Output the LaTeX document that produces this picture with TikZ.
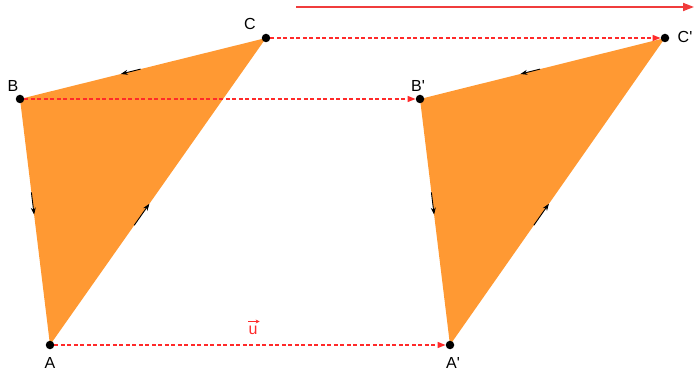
\documentclass[tikz,border=0pt]{standalone}
\usepackage{fontspec}
\setmainfont{Liberation Sans}
\usetikzlibrary{arrows.meta,calc}
\definecolor{fillor}{HTML}{FF9933}
\definecolor{vred}{HTML}{F03C3C}
\definecolor{dred}{HTML}{FF2A2A}
\tikzset{
  pt/.style={circle,fill=black,inner sep=0pt,minimum size=8.5pt},
  lbl/.style={font=\fontsize{16}{18}\selectfont,inner sep=0pt},
  tri/.style={fill=fillor,draw=none},
  edgeline/.style={black,line width=0.9pt,-{Stealth[length=7pt,width=5pt]}},
  trans/.style={color=dred,dash pattern=on 4pt off 2.5pt,line width=1.3pt,-{Triangle[length=8pt,width=6pt]}},
}
\begin{document}
\begin{tikzpicture}[x=1pt,y=-1pt]
\useasboundingbox (0,0) rectangle (696,371);
\coordinate (A) at (50,345);
\coordinate (B) at (20,99);
\coordinate (C) at (266,38);
\coordinate (A2) at (450,345);
\coordinate (B2) at (420,99);
\coordinate (C2) at (665,38);
\fill[tri] (A) -- (C) -- (B) -- cycle;
\fill[tri] (A2) -- (C2) -- (B2) -- cycle;
% points
\node[pt] (nA) at (A) {};
\node[pt] (nB) at (B) {};
\node[pt] (nC) at (C) {};
\node[pt] (nA2) at (A2) {};
\node[pt] (nB2) at (B2) {};
\node[pt] (nC2) at (C2) {};
% translation lines
\draw[trans] (nA) -- (nA2);
\draw[trans] (nB) -- (nB2);
\draw[trans] (nC) -- (nC2);
% edge arrows
\foreach \P/\Q/\R in {A/B/C, A2/B2/C2}{
  \draw[edgeline] ($(\R)!0.51!(\Q)$) -- ($(\R)!0.59!(\Q)$);
  \draw[edgeline] ($(\Q)!0.38!(\P)$) -- ($(\Q)!0.47!(\P)$);
  \draw[edgeline] ($(\P)!0.39!(\R)$) -- ($(\P)!0.46!(\R)$);
}
% vector
\coordinate (v1) at (296,7);
\coordinate (v2) at (694,7);
\draw[vred,line width=1.8pt,-{Triangle[length=11pt,width=8pt]}] (v1) -- (v2);
\node[lbl,text=dred] (u) at (253,330) {u};
\coordinate (ua) at ($(u.north west)+(0,-4)$);
\coordinate (ub) at ($(u.north east)+(2,-4)$);
\draw[dred,line width=0.8pt,-{Stealth[length=4pt,width=4pt]}] (ua) -- (ub);
% labels
\node[lbl] (lA) at (50,363) {A};
\node[lbl] (lB) at (13,86) {B};
\node[lbl] (lC) at (250,24) {C};
\node[lbl] (lA2) at (453,363) {A\textquotesingle};
\node[lbl] (lB2) at (418,86) {B\textquotesingle};
\node[lbl] (lC2) at (685,37) {C\textquotesingle};
\end{tikzpicture}
\end{document}
